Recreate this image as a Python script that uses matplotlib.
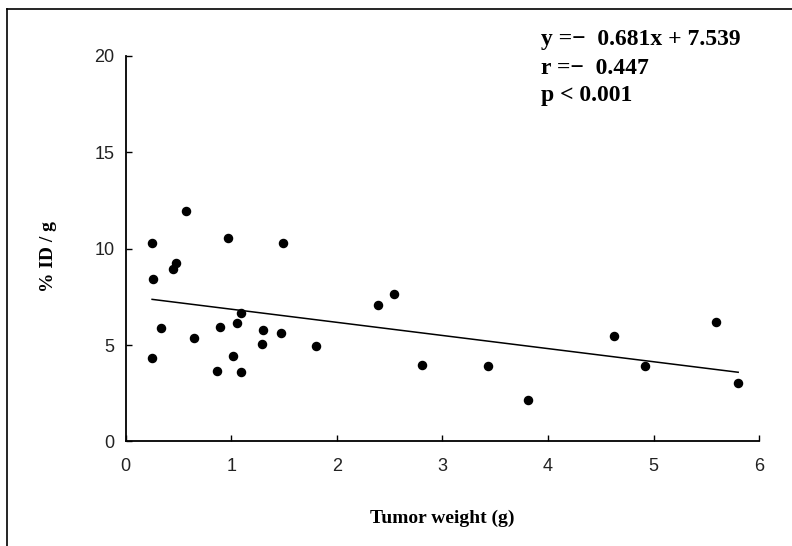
import matplotlib
matplotlib.use("Agg")
import matplotlib.pyplot as plt
import numpy as np
from matplotlib.lines import Line2D

# tumor weight (g) vs %ID/g
weight = [0.25, 0.57, 0.97, 1.49, 0.48, 0.45, 0.26, 1.09, 0.33, 0.89,
          1.05, 1.30, 1.47, 0.65, 1.29, 1.80, 0.25, 1.02, 0.86, 1.09,
          2.39, 2.54, 2.81, 3.43, 3.81, 4.62, 4.92, 5.59, 5.80]
uptake = [10.27, 11.93, 10.55, 10.27, 9.27, 8.94, 8.42, 6.65, 5.87, 5.92,
          6.13, 5.76, 5.64, 5.37, 5.04, 4.95, 4.33, 4.43, 3.65, 3.62,
          7.08, 7.65, 3.98, 3.90, 2.14, 5.45, 3.90, 6.21, 3.02]
slope, intercept = -0.681, 7.539
stats_text = ["y =\u2212  0.681x + 7.539", "r =\u2212  0.447", "p < 0.001"]

serif = ["Liberation Serif", "DejaVu Serif"]
sans = ["Liberation Sans", "DejaVu Sans"]

fig = plt.figure(figsize=(7.92, 5.46), dpi=100)
ax = fig.add_axes([0.1587, 0.1914, 0.80, 0.7066])

ax.scatter(weight, uptake, s=34, color="black", zorder=3)
xl = np.array([min(weight), max(weight)])
ax.plot(xl, slope * xl + intercept, color="black", lw=1.1)

ax.set_xlim(0, 6); ax.set_ylim(0, 20)
ax.set_xticks(range(0, 7)); ax.set_yticks([0, 5, 10, 15, 20])
ax.spines["top"].set_visible(False); ax.spines["right"].set_visible(False)
for s in ("left", "bottom"):
    ax.spines[s].set_linewidth(1.3)
ax.tick_params(direction="in", length=4, width=1, labelsize=13, colors="black")
ax.tick_params(axis="x", pad=12)
ax.tick_params(axis="y", pad=8)
for lab in ax.get_xticklabels() + ax.get_yticklabels():
    lab.set_family(sans); lab.set_color("#222222")

ax.set_xlabel("Tumor weight (g)", family=serif, fontweight="bold", fontsize=14, labelpad=25)
ax.set_ylabel("% ID / g", family=serif, fontweight="bold", fontsize=14)
ax.yaxis.set_label_coords(-0.109, 0.48)

for i, t in enumerate(stats_text):
    fig.text(541 / 792, 1 - (40 + 28 * i) / 546, t, family=serif, fontweight="bold",
             fontsize=17, va="center", ha="left")

# scan frame (left and top edges only)
fig.add_artist(Line2D([7 / 792, 7 / 792], [-0.1, 1 - 9 / 546], color="black", lw=1.2))
fig.add_artist(Line2D([7 / 792, 1.1], [1 - 9 / 546, 1 - 9 / 546], color="black", lw=1.2))

fig.savefig("out.png", dpi=100)
